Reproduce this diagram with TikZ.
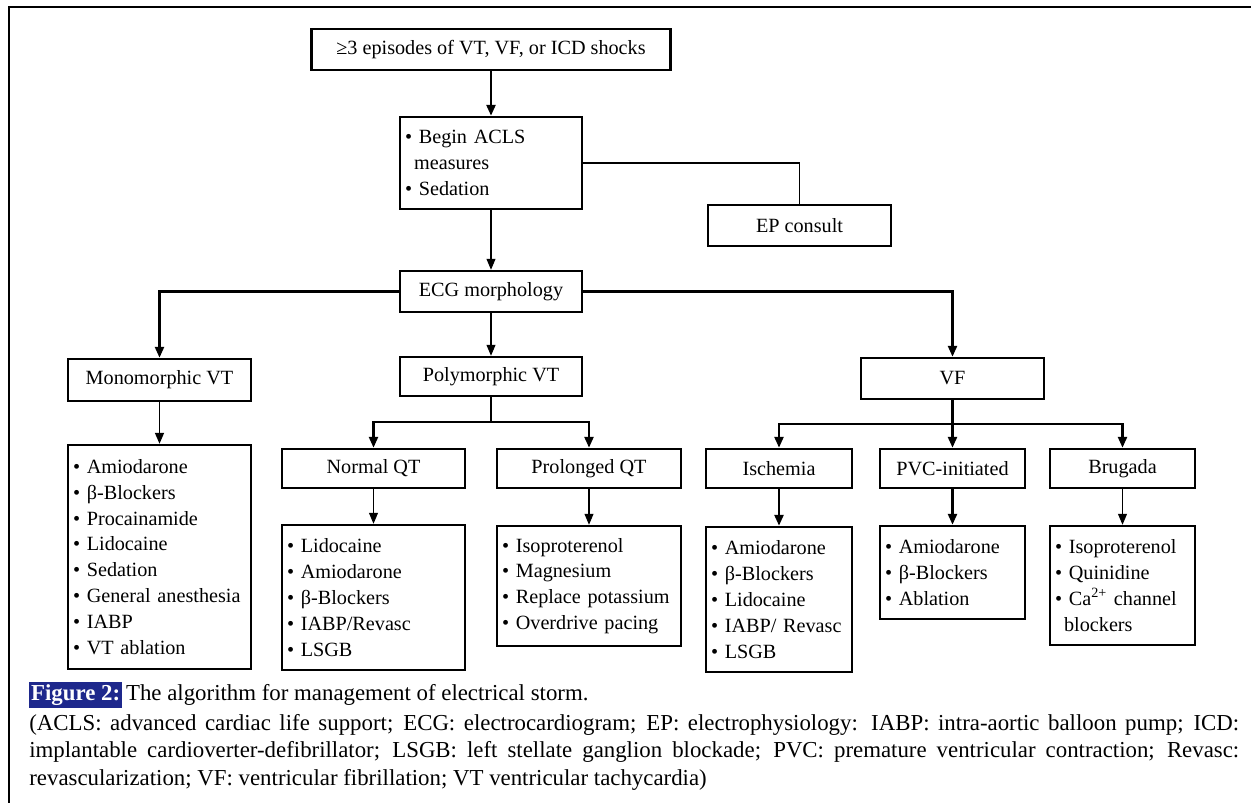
\documentclass[tikz,border=0pt]{standalone}
\usepackage{fontspec}
\setmainfont{Liberation Serif}
\usetikzlibrary{arrows.meta}
\definecolor{capblue}{RGB}{30,40,140}
\tikzset{box/.style={draw,line width=1.4pt,align=center,inner sep=0pt,font=\fontsize{11.5}{14.7}\selectfont}}
\tikzset{listbox/.style={draw,line width=1.4pt,align=left,inner xsep=0.1cm,inner ysep=0pt,font=\fontsize{11.5}{14.7}\selectfont}}
\tikzset{thickarrow/.style={line width=1.4pt,-{Triangle[length=2.2mm,width=1.8mm]}}}
\tikzset{thinarrow/.style={line width=0.6pt,-{Triangle[length=2.2mm,width=1.8mm]}}}

\begin{document}
\begin{tikzpicture}[x=0.02cm,y=-0.02cm]
    \useasboundingbox (0,0) rectangle (1251,803);
    \draw[line width=1.4pt] (1251,7) -- (9,7) -- (9,803);
    % setup the nodes
    \node[box,minimum width=7.18cm,minimum height=0.82cm] (shocks) at (491,49.5) {≥3 episodes of VT, VF, or ICD shocks};
    \node[listbox,text width=3.44cm,minimum height=1.84cm] (acls) at (491,163) {• Begin ACLS\\\hspace{0.45em}measures\\• Sedation};
    \node[box,minimum width=3.66cm,minimum height=0.82cm,line width=1.1pt] (ep) at (799.5,225.5) {EP consult};
    \node[box,minimum width=3.64cm,minimum height=0.82cm] (ecg) at (491,291.5) {ECG morphology};
    \node[box,minimum width=3.66cm,minimum height=0.84cm] (mono) at (159.5,380) {Monomorphic VT};
    \node[box,minimum width=3.64cm,minimum height=0.78cm] (poly) at (491,376.5) {Polymorphic VT};
    \node[box,minimum width=3.66cm,minimum height=0.82cm] (vf) at (952.5,378.5) {VF};
    \node[box,minimum width=3.66cm,minimum height=0.78cm] (normal) at (373.5,468.5) {Normal QT};
    \node[box,minimum width=3.68cm,minimum height=0.78cm] (prolonged) at (589,468.5) {Prolonged QT};
    \node[box,minimum width=2.92cm,minimum height=0.78cm] (ischemia) at (779,468.5) {Ischemia};
    \node[box,minimum width=2.90cm,minimum height=0.78cm] (pvc) at (952.5,468.5) {PVC-initiated};
    \node[box,minimum width=2.90cm,minimum height=0.78cm] (brugada) at (1122.5,468.5) {Brugada};
    % drug lists
    \node[listbox,text width=3.46cm,minimum height=4.48cm] (monolist) at (159.5,557) {• Amiodarone\\• β-Blockers\\• Procainamide\\• Lidocaine\\• Sedation\\• General anesthesia\\• IABP\\• VT ablation};
    \node[listbox,text width=3.46cm,minimum height=2.90cm] (normallist) at (373.5,597.5) {• Lidocaine\\• Amiodarone\\• β-Blockers\\• IABP/Revasc\\• LSGB};
    \node[listbox,text width=3.48cm,minimum height=2.40cm] (prolist) at (589,586) {• Isoproterenol\\• Magnesium\\• Replace potassium\\• Overdrive pacing};
    \node[listbox,text width=2.72cm,minimum height=2.90cm] (ischlist) at (779,599.5) {• Amiodarone\\• β-Blockers\\• Lidocaine\\• IABP/ Revasc\\• LSGB};
    \node[listbox,text width=2.70cm,minimum height=1.86cm] (pvclist) at (952.5,572.5) {• Amiodarone\\• β-Blockers\\• Ablation};
    \node[listbox,text width=2.70cm,minimum height=2.38cm] (brulist) at (1122.5,585.5) {• Isoproterenol\\• Quinidine\\• Ca\textsuperscript{2+} channel\\\hspace{0.45em}blockers};
    % connectors
    \draw[thickarrow] (shocks.south) -- (acls.north);
    \draw[line width=1.1pt] (acls.east) -| (ep.north);
    \draw[thinarrow] (acls.south) -- (ecg.north);
    \draw[thickarrow] (ecg.west) -| (mono.north);
    \draw[thickarrow] (ecg.east) -| (vf.north);
    \draw[thinarrow] (ecg.south) -- (poly.north);
    \draw[thinarrow,line width=0.9pt] (mono.south) -- (monolist.north);
    \draw[line width=1.4pt] (poly.south) -- ++(0,25) coordinate (polyfork);
    \foreach \t in {normal,prolonged}
    {
        \draw[thickarrow] (polyfork) -| (\t.north);
    }
    \draw[line width=1.4pt] (vf.south) -- ++(0,24) coordinate (vffork);
    \foreach \t in {ischemia,pvc,brugada}
    {
        \draw[thickarrow] (vffork) -| (\t.north);
    }
    \foreach \a/\b in {normal/normallist,prolonged/prolist,brugada/brulist}
    {
        \draw[thinarrow] (\a.south) -- (\b.north);
    }
    \foreach \a/\b in {ischemia/ischlist,pvc/pvclist}
    {
        \draw[thickarrow] (\a.south) -- (\b.north);
    }
    % caption
    \node[fill=capblue,text=white,font=\bfseries\fontsize{13}{15}\selectfont,inner xsep=1pt,inner ysep=0pt,minimum height=0.52cm,anchor=west] (figlabel) at (29,695) {Figure 2:};
    \node[anchor=base west,inner xsep=2pt,font=\fontsize{13}{15}\selectfont] (captitle) at (figlabel.base east) {The algorithm for management of electrical storm.};
    \node[anchor=north west,text width=24.2cm,align=justify,inner sep=0pt,font=\fontsize{13}{15.6}\selectfont] (capbody) at (29,714) {(ACLS: advanced cardiac life support; ECG: electrocardiogram; EP: electrophysiology: IABP: intra-aortic balloon pump; ICD:\linebreak implantable cardioverter-defibrillator; LSGB: left stellate ganglion blockade; PVC: premature ventricular contraction; Revasc:\linebreak revascularization; VF: ventricular fibrillation; VT ventricular tachycardia)};
\end{tikzpicture}
\end{document}
